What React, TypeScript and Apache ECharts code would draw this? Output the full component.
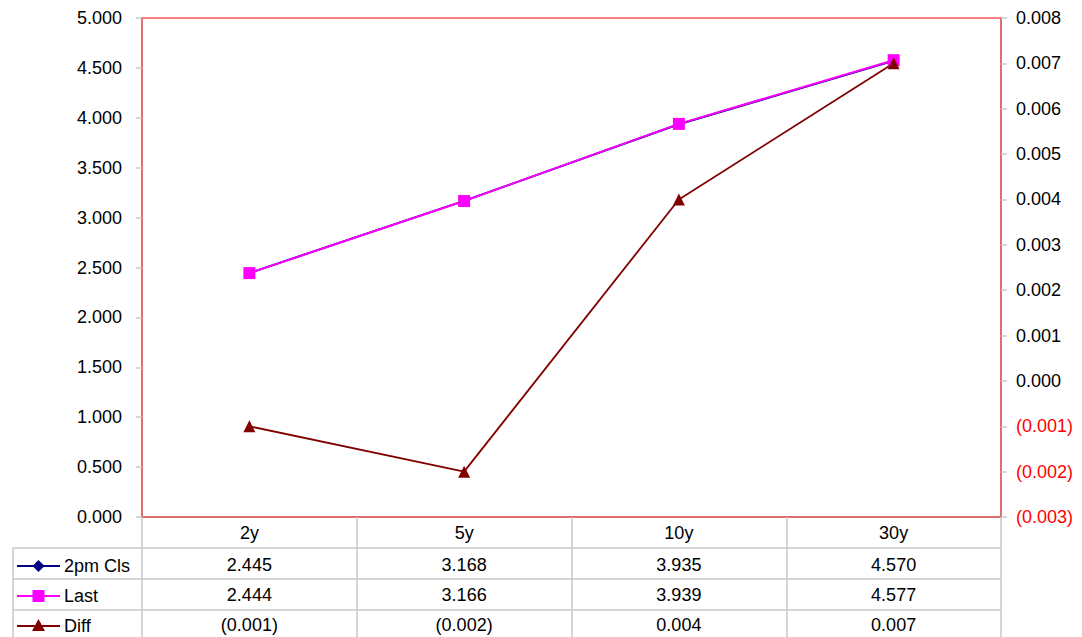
import React, { useEffect, useRef } from "react";
import * as echarts from "echarts";

// Yield curve tenors and closing levels
const categories = ["2y", "5y", "10y", "30y"];
const close2pm = [2.445, 3.168, 3.935, 4.57];
const lastPx = [2.444, 3.166, 3.939, 4.577];
const diffPx = [-0.001, -0.002, 0.004, 0.007];

const seriesNames = ["2pm Cls", "Last", "Diff"];
const seriesColors = ["#000080", "#ff00ff", "#800000"];

const FONT = "'Liberation Sans', Arial, sans-serif";
const FONT_SIZE = 18;
const GRID_LINE = "#c8c8c8";

const fmt = (v: number) => (v < 0 ? `(${Math.abs(v).toFixed(3)})` : v.toFixed(3));

export default function App() {
  const ref = useRef<HTMLDivElement>(null);

  useEffect(() => {
    if (!ref.current) return;
    const chart = echarts.init(ref.current, null, { renderer: "svg" });

    const rowLabel = {
      fontSize: FONT_SIZE,
      color: "#000",
      fontFamily: FONT,
      margin: 7,
    };
    const tableRowAxis = (values: number[], offset: number) => ({
      type: "category",
      gridIndex: 0,
      position: "bottom",
      offset,
      data: values.map(fmt),
      axisLine: { show: false },
      axisTick: { show: false },
      axisLabel: { ...rowLabel, interval: 0 },
    });

    const gridLeft = 142;
    const gridRight = 1001;
    const rowCenters = [566, 596, 626];
    const rowLines = [548, 579, 610];

    const legendGraphics: any[] = [];
    seriesNames.forEach((name, i) => {
      const y = rowCenters[i];
      const c = seriesColors[i];
      legendGraphics.push({
        type: "line",
        shape: { x1: 17, y1: y, x2: 60, y2: y },
        style: { stroke: c, lineWidth: 2 },
      });
      const cx = 38.5;
      if (i === 0) {
        legendGraphics.push({
          type: "polygon",
          shape: { points: [[cx, y - 6], [cx + 6, y], [cx, y + 6], [cx - 6, y]] },
          style: { fill: c },
        });
      } else if (i === 1) {
        legendGraphics.push({
          type: "rect",
          shape: { x: cx - 6, y: y - 6, width: 12, height: 12 },
          style: { fill: c },
        });
      } else {
        legendGraphics.push({
          type: "polygon",
          shape: { points: [[cx, y - 7], [cx + 6.5, y + 5], [cx - 6.5, y + 5]] },
          style: { fill: c },
        });
      }
      legendGraphics.push({
        type: "text",
        x: 64,
        y,
        style: {
          text: name,
          fontSize: FONT_SIZE,
          fontFamily: FONT,
          fill: "#000",
          verticalAlign: "middle",
          align: "left",
        },
      });
    });

    const tableLines: any[] = rowLines.map((y) => ({
      type: "line",
      shape: { x1: 13, y1: y, x2: gridRight, y2: y },
      style: { stroke: GRID_LINE, lineWidth: 1.5 },
    }));
    tableLines.push({
      type: "line",
      shape: { x1: 13, y1: 548, x2: 13, y2: 637 },
      style: { stroke: GRID_LINE, lineWidth: 1.5 },
    });

    chart.setOption({
      animation: false,
      backgroundColor: "#fff",
      textStyle: { fontFamily: FONT },
      grid: {
        left: gridLeft,
        right: 1082 - gridRight,
        top: 18,
        bottom: 120,
        show: true,
        borderColor: "#ff0000",
        borderWidth: 1,
        backgroundColor: "transparent",
      },
      xAxis: [
        {
          type: "category",
          data: categories,
          boundaryGap: true,
          position: "bottom",
          axisLine: { lineStyle: { color: "#d46a6a", width: 1.5 } },
          axisTick: {
            show: true,
            length: 120,
            interval: 0,
            lineStyle: { color: GRID_LINE, width: 1.5 },
          },
          axisLabel: { ...rowLabel, interval: 0 },
          splitLine: { show: false },
        },
        tableRowAxis(close2pm, 32),
        tableRowAxis(lastPx, 62),
        tableRowAxis(diffPx, 92),
      ],
      yAxis: [
        {
          type: "value",
          min: 0,
          max: 5,
          interval: 0.5,
          position: "left",
          axisLine: { show: true, lineStyle: { color: "#d46a6a", width: 1.5 } },
          axisTick: { show: true, length: 6, lineStyle: { color: GRID_LINE, width: 1.5 } },
          splitLine: { show: false },
          axisLabel: {
            fontSize: FONT_SIZE,
            color: "#000",
            fontFamily: FONT,
            margin: 20,
            formatter: (v: number) => v.toFixed(3),
          },
        },
        {
          type: "value",
          min: -0.003,
          max: 0.008,
          interval: 0.001,
          position: "right",
          axisLine: { show: true, lineStyle: { color: "#d46a6a", width: 1.5 } },
          axisTick: { show: true, length: 6, lineStyle: { color: GRID_LINE, width: 1.5 } },
          splitLine: { show: false },
          axisLabel: {
            fontSize: FONT_SIZE,
            color: "#000",
            fontFamily: FONT,
            margin: 15,
            formatter: (v: number) => {
              const r = Math.round(v * 1000) / 1000;
              return r < 0 ? `{neg|${fmt(r)}}` : fmt(Math.abs(r));
            },
            rich: {
              neg: { color: "#ff0000", fontSize: FONT_SIZE, fontFamily: FONT },
            },
          },
        },
      ],
      series: [
        {
          name: seriesNames[0],
          type: "line",
          xAxisIndex: 0,
          yAxisIndex: 0,
          data: close2pm,
          symbol: "diamond",
          symbolSize: 11,
          itemStyle: { color: seriesColors[0] },
          lineStyle: { color: seriesColors[0], width: 2 },
        },
        {
          name: seriesNames[1],
          type: "line",
          xAxisIndex: 0,
          yAxisIndex: 0,
          data: lastPx,
          symbol: "rect",
          symbolSize: 12,
          itemStyle: { color: seriesColors[1] },
          lineStyle: { color: seriesColors[1], width: 2 },
        },
        {
          name: seriesNames[2],
          type: "line",
          xAxisIndex: 0,
          yAxisIndex: 1,
          data: diffPx,
          symbol: "triangle",
          symbolSize: 12,
          itemStyle: { color: seriesColors[2] },
          lineStyle: { color: seriesColors[2], width: 1.8 },
        },
      ],
      graphic: [...tableLines, ...legendGraphics],
    });

    return () => chart.dispose();
  }, []);

  return (
    <div
      ref={ref}
      style={{ position: "fixed", left: 0, top: 0, width: 1082, height: 637 }}
    />
  );
}
